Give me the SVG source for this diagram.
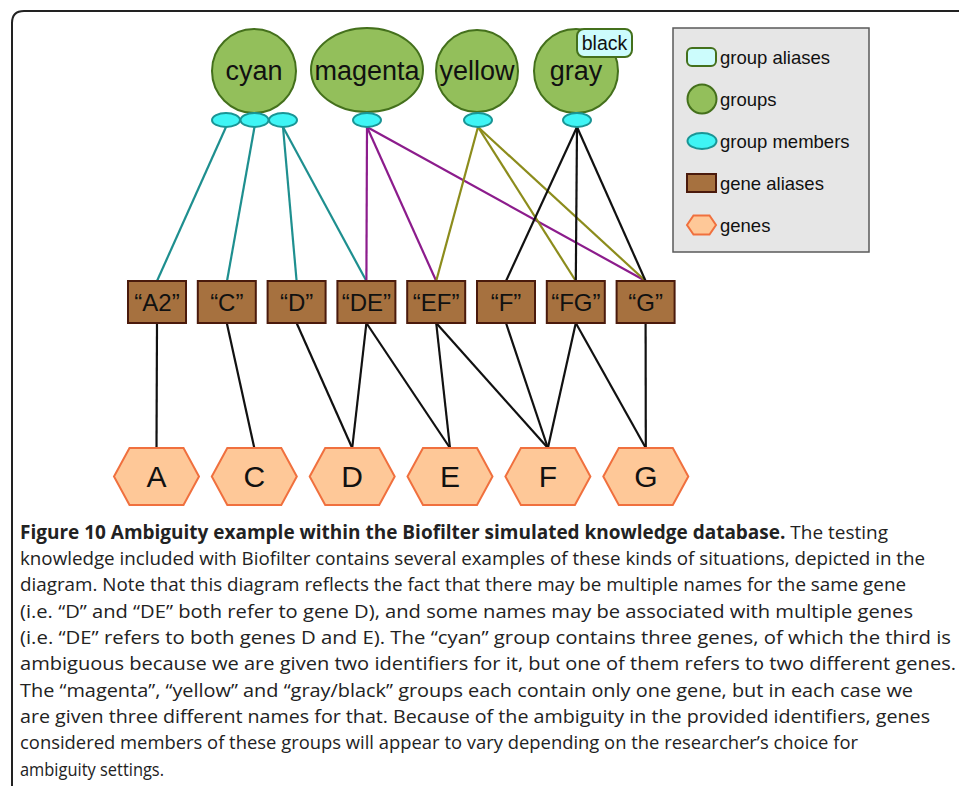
<svg xmlns="http://www.w3.org/2000/svg" width="959" height="786" viewBox="0 0 959 786">
<style>
.grp{fill:#93bf5b;stroke:#44701c;stroke-width:2}
.mem{fill:#3ff5f5;stroke:#1a9595;stroke-width:2}
.alias{fill:#ccfcfc;stroke:#44701c;stroke-width:2}
.gal{fill:#a6713f;stroke:#4a1a0c;stroke-width:2}
.gene{fill:#fec898;stroke:#f0703e;stroke-width:2}
.t{font-family:"Liberation Sans",Arial,sans-serif;fill:#111}
.gt{font-size:27px;text-anchor:middle}
.at{font-size:24px;text-anchor:middle}
.ht{font-size:30px;text-anchor:middle}
.lt{font-size:18.5px}
.cap{font-family:"Open Sans","DejaVu Sans",sans-serif;font-size:19px;fill:#222}
.b{font-weight:bold}
.c{fill:none;stroke-width:2.2}
.teal{stroke:#1e8f8f}
.mag{stroke:#8c1c8c}
.oli{stroke:#8c8c1c}
.blk{stroke:#111}
</style>
<rect width="959" height="786" fill="#fff"/>
<path d="M12 786 L12 23 Q12 11 24 11 L959 11" fill="none" stroke="#222" stroke-width="2"/>

<g id="connectors">
<g class="c teal">
<line x1="226" y1="127" x2="157" y2="281"/>
<line x1="254.5" y1="127" x2="227" y2="281"/>
<line x1="283" y1="127" x2="296.6" y2="281"/>
<line x1="283" y1="127" x2="366.4" y2="281"/>
</g>
<g class="c mag">
<line x1="367" y1="127" x2="366.4" y2="281"/>
<line x1="367" y1="127" x2="436.2" y2="281"/>
<line x1="367" y1="127" x2="645.6" y2="281"/>
</g>
<g class="c oli">
<line x1="478" y1="127" x2="436.2" y2="281"/>
<line x1="478" y1="127" x2="575.8" y2="281"/>
<line x1="478" y1="127" x2="645.6" y2="281"/>
</g>
<g class="c blk">
<line x1="577" y1="127" x2="506" y2="281"/>
<line x1="577" y1="127" x2="575.8" y2="281"/>
<line x1="577" y1="127" x2="645.6" y2="281"/>
<line x1="157" y1="323" x2="156.5" y2="448"/>
<line x1="226.8" y1="323" x2="254.3" y2="448"/>
<line x1="296.6" y1="323" x2="352.2" y2="448"/>
<line x1="366.4" y1="323" x2="352.2" y2="448"/>
<line x1="366.4" y1="323" x2="450" y2="448"/>
<line x1="436.2" y1="323" x2="450" y2="448"/>
<line x1="436.2" y1="323" x2="547.9" y2="448"/>
<line x1="506" y1="323" x2="547.9" y2="448"/>
<line x1="575.8" y1="323" x2="547.9" y2="448"/>
<line x1="575.8" y1="323" x2="645.8" y2="448"/>
<line x1="645.6" y1="323" x2="645.8" y2="448"/>
</g>
</g>

<g id="group-cyan"><circle class="grp" cx="254" cy="71" r="42"/><text class="t gt" x="254" y="80">cyan</text></g>
<g id="group-magenta"><ellipse class="grp" cx="367" cy="70" rx="56" ry="42"/><text class="t gt" x="367" y="80">magenta</text></g>
<g id="group-yellow"><circle class="grp" cx="477" cy="71" r="41"/><text class="t gt" x="477" y="80">yellow</text></g>
<g id="group-gray"><circle class="grp" cx="576" cy="71" r="42"/><text class="t gt" x="576" y="80">gray</text></g>
<g id="alias-black"><rect class="alias" x="577" y="29" width="55" height="28" rx="7"/><text class="t" x="604.5" y="50" font-size="19.5" text-anchor="middle">black</text></g>

<g id="member-cyan-1"><ellipse class="mem" cx="226" cy="120" rx="14" ry="7"/></g>
<g id="member-cyan-2"><ellipse class="mem" cx="254.5" cy="120" rx="14" ry="7"/></g>
<g id="member-cyan-3"><ellipse class="mem" cx="283" cy="120" rx="14" ry="7"/></g>
<g id="member-magenta"><ellipse class="mem" cx="367" cy="120" rx="14" ry="7"/></g>
<g id="member-yellow"><ellipse class="mem" cx="478" cy="120" rx="14" ry="7"/></g>
<g id="member-gray"><ellipse class="mem" cx="577" cy="120" rx="14" ry="7"/></g>

<g id="alias-A2"><rect class="gal" x="128" y="281" width="58" height="42"/><text class="t at" x="157" y="311">“A2”</text></g>
<g id="alias-C"><rect class="gal" x="197.8" y="281" width="58" height="42"/><text class="t at" x="226.8" y="311">“C”</text></g>
<g id="alias-D"><rect class="gal" x="267.6" y="281" width="58" height="42"/><text class="t at" x="296.6" y="311">“D”</text></g>
<g id="alias-DE"><rect class="gal" x="337.4" y="281" width="58" height="42"/><text class="t at" x="366.4" y="311">“DE”</text></g>
<g id="alias-EF"><rect class="gal" x="407.2" y="281" width="58" height="42"/><text class="t at" x="436.2" y="311">“EF”</text></g>
<g id="alias-F"><rect class="gal" x="477" y="281" width="58" height="42"/><text class="t at" x="506" y="311">“F”</text></g>
<g id="alias-FG"><rect class="gal" x="546.8" y="281" width="58" height="42"/><text class="t at" x="575.8" y="311">“FG”</text></g>
<g id="alias-G"><rect class="gal" x="616.6" y="281" width="58" height="42"/><text class="t at" x="645.6" y="311">“G”</text></g>

<g id="gene-A"><polygon class="gene" points="114,476.5 129.5,448 183.5,448 199,476.5 183.5,505 129.5,505"/><text class="t ht" x="156.5" y="487">A</text></g>
<g id="gene-C"><polygon class="gene" points="211.8,476.5 227.3,448 281.3,448 296.8,476.5 281.3,505 227.3,505"/><text class="t ht" x="254.3" y="487">C</text></g>
<g id="gene-D"><polygon class="gene" points="309.7,476.5 325.2,448 379.2,448 394.7,476.5 379.2,505 325.2,505"/><text class="t ht" x="352.2" y="487">D</text></g>
<g id="gene-E"><polygon class="gene" points="407.5,476.5 423,448 477,448 492.5,476.5 477,505 423,505"/><text class="t ht" x="450" y="487">E</text></g>
<g id="gene-F"><polygon class="gene" points="505.4,476.5 520.9,448 574.9,448 590.4,476.5 574.9,505 520.9,505"/><text class="t ht" x="547.9" y="487">F</text></g>
<g id="gene-G"><polygon class="gene" points="603.3,476.5 618.8,448 672.8,448 688.3,476.5 672.8,505 618.8,505"/><text class="t ht" x="645.8" y="487">G</text></g>

<g id="legend">
<rect x="673" y="28" width="196" height="224" fill="#e6e6e6" stroke="#5a5a5a" stroke-width="1.5"/>
<rect class="alias" x="687" y="48" width="29" height="18" rx="5"/>
<text class="t lt" x="720" y="63.5">group aliases</text>
<circle class="grp" cx="702" cy="99" r="14.5"/>
<text class="t lt" x="720" y="105.5">groups</text>
<ellipse class="mem" cx="702" cy="141" rx="14.5" ry="8"/>
<text class="t lt" x="720" y="147.5">group members</text>
<rect class="gal" x="687" y="174" width="29" height="18"/>
<text class="t lt" x="720" y="189.5">gene aliases</text>
<polygon class="gene" points="687,225 693.5,215.5 709.5,215.5 716,225 709.5,234.5 693.5,234.5"/>
<text class="t lt" x="720" y="231.5">genes</text>
</g>

<g id="caption">
<text class="cap" x="20" y="539" textLength="868" lengthAdjust="spacingAndGlyphs"><tspan class="b">Figure 10 Ambiguity example within the Biofilter simulated knowledge database.</tspan> The testing</text>
<text class="cap" x="20" y="565" textLength="905" lengthAdjust="spacingAndGlyphs">knowledge included with Biofilter contains several examples of these kinds of situations, depicted in the</text>
<text class="cap" x="20" y="591" textLength="886" lengthAdjust="spacingAndGlyphs">diagram. Note that this diagram reflects the fact that there may be multiple names for the same gene</text>
<text class="cap" x="20" y="618" textLength="893" lengthAdjust="spacingAndGlyphs">(i.e. “D” and “DE” both refer to gene D), and some names may be associated with multiple genes</text>
<text class="cap" x="20" y="644" textLength="931" lengthAdjust="spacingAndGlyphs">(i.e. “DE” refers to both genes D and E). The “cyan” group contains three genes, of which the third is</text>
<text class="cap" x="20" y="670" textLength="936" lengthAdjust="spacingAndGlyphs">ambiguous because we are given two identifiers for it, but one of them refers to two different genes.</text>
<text class="cap" x="20" y="697" textLength="893" lengthAdjust="spacingAndGlyphs">The “magenta”, “yellow” and “gray/black” groups each contain only one gene, but in each case we</text>
<text class="cap" x="20" y="723" textLength="910" lengthAdjust="spacingAndGlyphs">are given three different names for that. Because of the ambiguity in the provided identifiers, genes</text>
<text class="cap" x="20" y="749" textLength="838" lengthAdjust="spacingAndGlyphs">considered members of these groups will appear to vary depending on the researcher’s choice for</text>
<text class="cap" x="20" y="776" textLength="144" lengthAdjust="spacingAndGlyphs">ambiguity settings.</text>
</g>
</svg>
